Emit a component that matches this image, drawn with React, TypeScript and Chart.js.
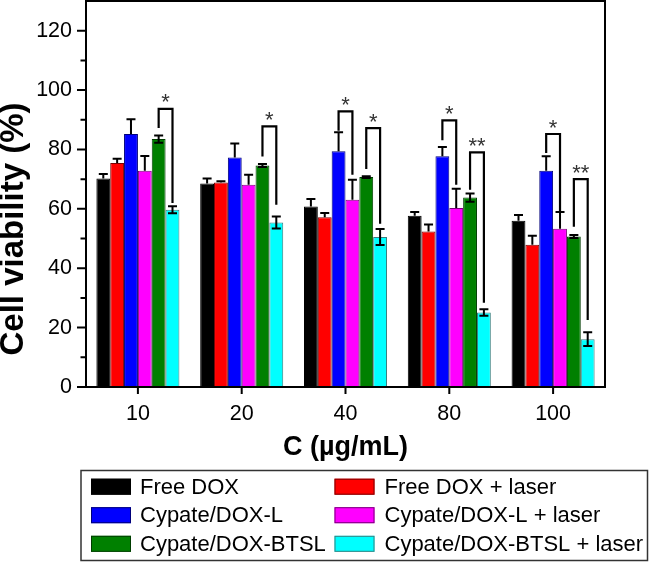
import React, { useEffect, useRef } from 'react';
import { Chart, registerables } from 'chart.js';

Chart.register(...registerables);

// ---------- data ----------
const CATEGORIES = ['10', '20', '40', '80', '100'];
const SERIES_NAMES = [
  'Free DOX',
  'Free DOX + laser',
  'Cypate/DOX-L',
  'Cypate/DOX-L + laser',
  'Cypate/DOX-BTSL',
  'Cypate/DOX-BTSL + laser',
];
const FREE_DOX = [70.2, 68.5, 60.8, 57.7, 56.0];
const FREE_DOX_ERR = [1.5, 1.7, 2.5, 1.2, 1.9];
const FREE_DOX_LASER = [75.4, 68.9, 57.2, 52.4, 47.9];
const FREE_DOX_LASER_ERR = [1.5, 0.4, 1.4, 2.3, 3.0];
const CYP_L = [85.2, 77.3, 79.4, 77.7, 72.8];
const CYP_L_ERR = [5.0, 4.7, 6.4, 3.1, 4.9];
const CYP_L_LASER = [72.8, 68.1, 63.1, 60.3, 53.3];
const CYP_L_LASER_ERR = [5.0, 3.4, 6.7, 6.5, 5.6];
const CYP_BTSL = [83.5, 74.6, 70.7, 63.8, 50.7];
const CYP_BTSL_ERR = [1.2, 0.5, 0.3, 1.4, 0.5];
const CYP_BTSL_LASER = [59.7, 55.4, 50.5, 25.1, 16.1];
const CYP_BTSL_LASER_ERR = [1.2, 2.0, 2.7, 1.1, 2.3];

const Y_TICKS = [0, 20, 40, 60, 80, 100, 120];
const Y_MINOR_TICKS = [10, 30, 50, 70, 90, 110];
const Y_MAX = 130;

// significance brackets
const SIG_CATEGORY = [0, 1, 2, 2, 3, 3, 4, 4];
const SIG_FROM = [4, 4, 2, 4, 2, 4, 2, 4];
const SIG_TO = [5, 5, 3, 5, 3, 5, 3, 5];
const SIG_TOP = [93.7, 87.8, 92.8, 87.2, 89.8, 79.0, 85.2, 70.0];
const SIG_LEFT_END = [87.2, 77.6, 86.3, 73.4, 83.1, 66.4, 78.8, 54.0];
const SIG_RIGHT_END = [62.0, 61.4, 71.5, 55.0, 68.1, 28.4, 59.1, 22.6];
const SIG_LABEL = ['*', '*', '*', '*', '*', '**', '*', '**'];

// ---------- styles ----------
const VALUES = [FREE_DOX, FREE_DOX_LASER, CYP_L, CYP_L_LASER, CYP_BTSL, CYP_BTSL_LASER];
const ERRORS = [FREE_DOX_ERR, FREE_DOX_LASER_ERR, CYP_L_ERR, CYP_L_LASER_ERR, CYP_BTSL_ERR, CYP_BTSL_LASER_ERR];
const COLORS = ['#000000', '#ff0000', '#0000ff', '#ff00ff', '#008000', '#00ffff'];
const BORDERS = ['#000000', '#7a0000', '#00007a', '#7a007a', '#003d00', '#3a7f7f'];
const LOWER_ERR = [false, false, false, false, true, true];
const FONT = "'Liberation Sans', Arial, sans-serif";

const overlay = {
  id: 'overlay',
  afterDatasetsDraw(chart: any) {
    const ctx: CanvasRenderingContext2D = chart.ctx;
    const { left, right, top, bottom } = chart.chartArea;
    const ys = chart.scales.y;
    const xs = chart.scales.x;
    ctx.save();

    // error bars
    ctx.strokeStyle = '#000';
    ctx.lineWidth = 2;
    chart.data.datasets.forEach((ds: any, i: number) => {
      const meta = chart.getDatasetMeta(i);
      meta.data.forEach((bar: any, j: number) => {
        const v = ds.data[j];
        const e = ERRORS[i][j];
        const x = bar.x;
        const yt = ys.getPixelForValue(v + e);
        const yv = ys.getPixelForValue(v);
        const yb = ys.getPixelForValue(v - e);
        ctx.beginPath();
        ctx.moveTo(x, LOWER_ERR[i] ? yb : yv);
        ctx.lineTo(x, yt);
        ctx.moveTo(x - 4.5, yt);
        ctx.lineTo(x + 4.5, yt);
        if (LOWER_ERR[i]) {
          ctx.moveTo(x - 4.5, yb);
          ctx.lineTo(x + 4.5, yb);
        }
        ctx.stroke();
      });
    });

    // significance brackets
    ctx.lineWidth = 2.2;
    ctx.strokeStyle = '#000';
    for (let k = 0; k < SIG_CATEGORY.length; k++) {
      const c = SIG_CATEGORY[k];
      const xl = chart.getDatasetMeta(SIG_FROM[k]).data[c].x;
      const xr = chart.getDatasetMeta(SIG_TO[k]).data[c].x;
      const yt = ys.getPixelForValue(SIG_TOP[k]);
      ctx.beginPath();
      ctx.moveTo(xl, ys.getPixelForValue(SIG_LEFT_END[k]));
      ctx.lineTo(xl, yt);
      ctx.lineTo(xr, yt);
      ctx.lineTo(xr, ys.getPixelForValue(SIG_RIGHT_END[k]));
      ctx.stroke();
      ctx.fillStyle = '#333';
      ctx.font = `22px ${FONT}`;
      ctx.textAlign = 'center';
      ctx.textBaseline = 'alphabetic';
      ctx.fillText(SIG_LABEL[k], (xl + xr) / 2, yt + 0.5);
    }

    // frame
    ctx.strokeStyle = '#000';
    ctx.lineWidth = 2;
    ctx.strokeRect(left, top, right - left, bottom - top);

    // y ticks
    ctx.beginPath();
    Y_TICKS.forEach((v) => {
      const y = ys.getPixelForValue(v);
      ctx.moveTo(left - 9, y);
      ctx.lineTo(left, y);
    });
    Y_MINOR_TICKS.forEach((v) => {
      const y = ys.getPixelForValue(v);
      ctx.moveTo(left - 5.5, y);
      ctx.lineTo(left, y);
    });
    // x ticks
    CATEGORIES.forEach((_, i) => {
      const x = xs.getPixelForValue(i);
      ctx.moveTo(x, bottom);
      ctx.lineTo(x, bottom + 7);
    });
    ctx.stroke();

    // y title
    ctx.save();
    ctx.translate(14, 229);
    ctx.rotate(-Math.PI / 2);
    ctx.fillStyle = '#000';
    ctx.font = `bold 33px ${FONT}`;
    ctx.textAlign = 'center';
    ctx.textBaseline = 'middle';
    ctx.fillText('Cell viability (%)', 0, 0);
    ctx.restore();

    // legend
    ctx.lineWidth = 1.5;
    ctx.strokeStyle = '#333';
    ctx.strokeRect(81, 470.5, 566.5, 90);
    const colX = [91, 334.5];
    const textX = [140, 384.5];
    const rowY = [486.7, 515.2, 543.8];
    ctx.font = `22px ${FONT}`;
    ctx.textAlign = 'left';
    ctx.textBaseline = 'middle';
    chart.data.datasets.forEach((ds: any, i: number) => {
      const r = Math.floor(i / 2);
      const c = i % 2;
      const y = rowY[r];
      ctx.fillStyle = COLORS[i];
      ctx.fillRect(colX[c], y - 8, 40, 16);
      ctx.lineWidth = 1;
      ctx.strokeStyle = BORDERS[i];
      ctx.strokeRect(colX[c] + 0.5, y - 7.5, 39, 15);
      ctx.fillStyle = '#000';
      ctx.fillText(ds.label, textX[c], y + 1);
    });

    ctx.restore();
  },
};

export default function App() {
  const ref = useRef<HTMLCanvasElement>(null);
  useEffect(() => {
    document.body.style.margin = '0';
    const chart = new Chart(ref.current as HTMLCanvasElement, {
      type: 'bar',
      data: {
        labels: CATEGORIES,
        datasets: SERIES_NAMES.map((name, i) => ({
          label: name,
          data: VALUES[i],
          backgroundColor: COLORS[i],
          borderColor: BORDERS[i],
          borderWidth: 1,
          categoryPercentage: 0.8,
          barPercentage: 1.0,
        })),
      },
      options: {
        animation: false,
        responsive: false,
        devicePixelRatio: 1,
        layout: { padding: { left: 0, right: 45, top: 1, bottom: 96 } },
        plugins: {
          legend: { display: false },
          tooltip: { enabled: false },
        },
        scales: {
          x: {
            type: 'category',
            offset: true,
            grid: { display: false, drawTicks: false },
            border: { display: false },
            ticks: {
              color: '#000',
              font: { family: FONT, size: 21.5 },
              padding: 14,
              maxRotation: 0,
            },
            title: {
              display: true,
              text: 'C (µg/mL)',
              color: '#000',
              font: { family: FONT, size: 27, weight: 'bold' },
              padding: { top: 0, bottom: 3 },
            },
            afterFit: (s: any) => {
              s.height = 80;
              s.paddingLeft = 0;
              s.paddingRight = 0;
            },
          },
          y: {
            min: 0,
            max: Y_MAX,
            grid: { display: false, drawTicks: false },
            border: { display: false },
            ticks: {
              color: '#000',
              font: { family: FONT, size: 21.5 },
              padding: 14,
              includeBounds: false,
            },
            afterBuildTicks: (s: any) => {
              s.ticks = Y_TICKS.map((v) => ({ value: v }));
            },
            afterFit: (s: any) => {
              s.width = 86;
              s.paddingTop = 0;
              s.paddingBottom = 0;
            },
          },
        },
      },
      plugins: [overlay],
    } as any);
    return () => chart.destroy();
  }, []);
  return (
    <div style={{ width: 650, height: 563 }}>
      <canvas ref={ref} width={650} height={563} style={{ display: 'block' }} />
    </div>
  );
}
